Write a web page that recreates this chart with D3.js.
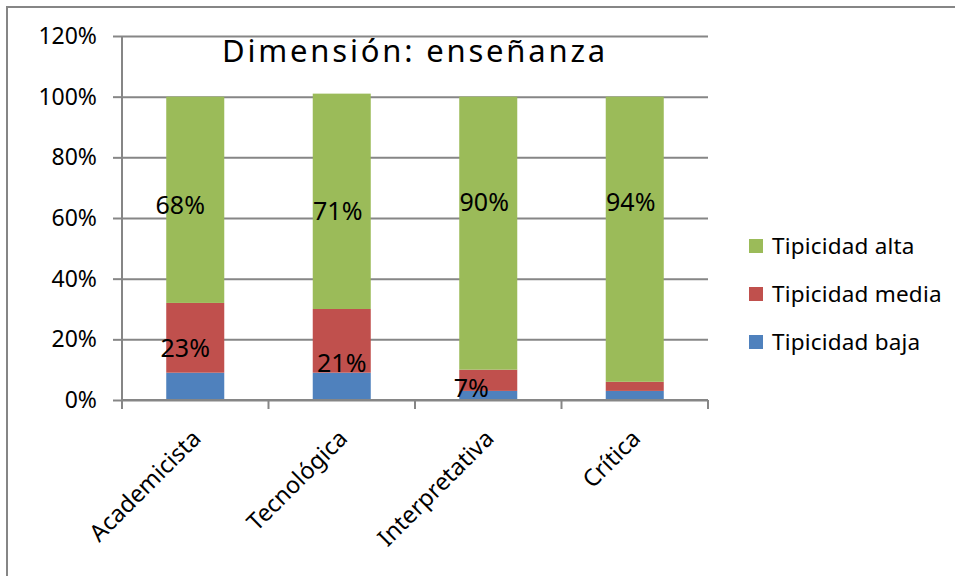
<!DOCTYPE html>
<html>
<head>
<meta charset="utf-8">
<script src="https://cdn.jsdelivr.net/npm/d3@7"></script>
<style>
  html, body { margin: 0; padding: 0; background: #fff; }
  svg { display: block; }
  text { font-family: "Noto Sans", "Liberation Sans", sans-serif; fill: #000; }
</style>
</head>
<body>
<svg id="chart" width="955" height="576"></svg>
<script>
// Categories (teaching orientations)
const categories = ["Academicista", "Tecnológica", "Interpretativa", "Crítica"];
// Series values, in percent
const tipicidadBaja  = [9, 9, 3, 3];
const tipicidadMedia = [23, 21, 7, 3];
const tipicidadAlta  = [68, 71, 90, 94];
const seriesNames = ["Tipicidad baja", "Tipicidad media", "Tipicidad alta"];
const yTicks = [0, 20, 40, 60, 80, 100, 120];
const title = "Dimensión: enseñanza";

// Which segment labels are shown: [seriesIndex, categoryIndex]
const shownLabels = [[2,0],[2,1],[2,2],[2,3],[1,0],[1,1],[1,2]];
// Small pixel nudges for the value labels, same order as shownLabels
const labelNudge = [[-15,5],[-4,10],[-4,-31],[-4,-37],[-10,10],[0,22],[-17,8]];

const colors = ["#4F81BD", "#C0504D", "#9BBB59"];
const gridColor = "#868686";

const svg = d3.select("#chart");

// Outer chart frame
svg.append("rect")
  .attr("x", 7).attr("y", 7).attr("width", 1000).attr("height", 620)
  .attr("fill", "none").attr("stroke", gridColor).attr("stroke-width", 2);

const plot = { left: 122, right: 708, top: 36, bottom: 400 };

const x = d3.scaleBand().domain(categories)
  .range([plot.left, plot.right]).paddingInner(0.604).paddingOuter(0.302);
const xOuter = d3.scaleBand().domain(categories).range([plot.left, plot.right]);
const y = d3.scaleLinear().domain([0, 120]).range([plot.bottom, plot.top]);

// Horizontal gridlines with outer tick marks
const yAxis = d3.axisLeft(y).tickValues(yTicks).tickFormat(d => d + "%")
  .tickSize(9).tickPadding(16);
const gy = svg.append("g").attr("transform", `translate(${plot.left},0)`).call(yAxis);
gy.select(".domain").attr("stroke", gridColor).attr("stroke-width", 2)
  .attr("d", `M0,${plot.top}V${plot.bottom}`);
gy.selectAll(".tick line").attr("stroke", gridColor).attr("stroke-width", 2);
gy.selectAll(".tick text").attr("font-size", 23).attr("font-family", "Noto Sans");
gy.selectAll(".tick").append("line")
  .attr("x1", 0).attr("x2", plot.right - plot.left)
  .attr("stroke", gridColor).attr("stroke-width", 2);

// Stacked bars
const rows = categories.map((c, i) => ({
  cat: c, baja: tipicidadBaja[i], media: tipicidadMedia[i], alta: tipicidadAlta[i]
}));
const keys = ["baja", "media", "alta"];
const stacked = d3.stack().keys(keys)(rows);

svg.append("g").selectAll("g").data(stacked).join("g")
  .attr("fill", (d, i) => colors[i])
  .selectAll("rect").data(d => d).join("rect")
  .attr("x", d => x(d.data.cat))
  .attr("width", x.bandwidth())
  .attr("y", d => y(d[1]))
  .attr("height", d => y(d[0]) - y(d[1]));

// X axis with ticks at category boundaries
const xb = xOuter.domain().map(c => xOuter(c)).concat([plot.right]);
const gx = svg.append("g");
gx.append("line").attr("x1", plot.left).attr("x2", plot.right)
  .attr("y1", plot.bottom).attr("y2", plot.bottom)
  .attr("stroke", gridColor).attr("stroke-width", 2);
gx.selectAll("line.tk").data(xb).join("line").attr("class", "tk")
  .attr("x1", d => d).attr("x2", d => d)
  .attr("y1", plot.bottom).attr("y2", plot.bottom + 9)
  .attr("stroke", gridColor).attr("stroke-width", 2);
gx.selectAll("text").data(categories).join("text")
  .attr("transform", d => `translate(${x(d) + x.bandwidth() / 2 + 7},${plot.bottom + 40}) rotate(-45)`)
  .attr("text-anchor", "end")
  .attr("font-size", 23.5)
  .text(d => d);

// Value labels
svg.append("g").selectAll("text").data(shownLabels).join("text")
  .attr("x", (d, k) => x(categories[d[1]]) + x.bandwidth() / 2 + labelNudge[k][0])
  .attr("y", (d, k) => {
    const seg = stacked[d[0]][d[1]];
    return y((seg[0] + seg[1]) / 2) + labelNudge[k][1];
  })
  .attr("dy", "0.36em")
  .attr("text-anchor", "middle")
  .attr("font-size", 25)
  .text(d => stacked[d[0]][d[1]].data[keys[d[0]]] + "%");

// Title
svg.append("text")
  .attr("x", (plot.left + plot.right) / 2).attr("y", 62)
  .attr("text-anchor", "middle")
  .attr("font-family", "DejaVu Sans")
  .attr("font-size", 31)
  .attr("letter-spacing", 2.8)
  .text(title);

// Legend (top to bottom: alta, media, baja)
const legendOrder = [2, 1, 0];
const lg = svg.append("g").selectAll("g").data(legendOrder).join("g")
  .attr("transform", (d, i) => `translate(749,${246 + i * 48})`);
lg.append("rect").attr("x", 0).attr("y", -7).attr("width", 14).attr("height", 14)
  .attr("fill", d => colors[d]);
lg.append("text").attr("x", 23).attr("y", 0).attr("dy", "0.35em")
  .attr("font-size", 22.5).attr("letter-spacing", 0.2).text(d => seriesNames[d]);
</script>
</body>
</html>
